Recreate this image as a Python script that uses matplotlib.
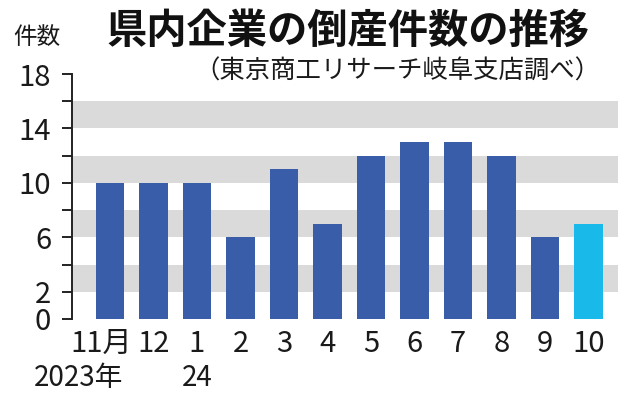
import matplotlib
matplotlib.use("Agg")
import matplotlib.pyplot as plt
import matplotlib.transforms as mtransforms

plt.rcParams['font.family'] = ['Noto Sans CJK JP', 'DejaVu Sans']

# data
months = ["11月", "12", "1", "2", "3", "4", "5", "6", "7", "8", "9", "10"]
counts = [10, 10, 10, 6, 11, 7, 12, 13, 13, 12, 6, 7]
y_ticks = [2, 4, 6, 8, 10, 12, 14, 16, 18]
y_labels = [0, 2, 6, 10, 14, 18]
bands = [(2, 4), (6, 8), (10, 12), (14, 16)]

blue = "#3a5da9"
cyan = "#19b9ea"

fig = plt.figure(figsize=(6.34, 4.0), dpi=100)
ax = fig.add_axes([72/634, 1-319/400, (618-72)/634, (319-74)/400])

for lo, hi in bands:
    ax.axhspan(lo, hi, color="#dadada", lw=0, zorder=0)

x = list(range(len(months)))
colors = [blue]*(len(months)-1) + [cyan]
ax.bar(x, counts, width=0.65, color=colors, zorder=2)

ax.set_xlim(-0.874, 11.68)
ax.set_ylim(0, 18)

for s in ["top", "right", "bottom"]:
    ax.spines[s].set_visible(False)
ax.spines["left"].set_linewidth(1.4)
ax.spines["left"].set_color("#222222")

ax.set_yticks([0] + y_ticks)
ax.set_yticklabels([str(v) if v in y_labels else "" for v in [0] + y_ticks])
ax.tick_params(axis="y", length=7, width=1.4, color="#222222", labelsize=21, pad=8)
ax.set_xticks(x)
ax.set_xticklabels(months)
ax.tick_params(axis="x", length=0, labelsize=21, pad=7)
for lab in ax.get_yticklabels() + ax.get_xticklabels():
    lab.set_color("#1a1a1a")

# shift "11月" a little to the left like the original
lab0 = ax.get_xticklabels()[0]
lab0.set_transform(lab0.get_transform() + mtransforms.ScaledTranslation(-9/100, 0, fig.dpi_scale_trans))

fig.text(79/634, 1-378/400, "2023年", fontsize=20, ha="center", va="center", color="#1a1a1a")
fig.text(197/634, 1-378/400, "24", fontsize=20, ha="center", va="center", color="#1a1a1a")

fig.text(37/634, 1-37/400, "件数", fontsize=17, ha="center", va="center", color="#1a1a1a")
fig.text(348/634, 1-31/400, "県内企業の倒産件数の推移", fontsize=29, fontweight="bold",
         ha="center", va="center", color="#111111")
fig.text(397/634, 1-72/400, "（東京商工リサーチ岐阜支店調べ）", fontsize=18.3,
         ha="center", va="center", color="#1a1a1a")

fig.savefig("out.png", dpi=100)
